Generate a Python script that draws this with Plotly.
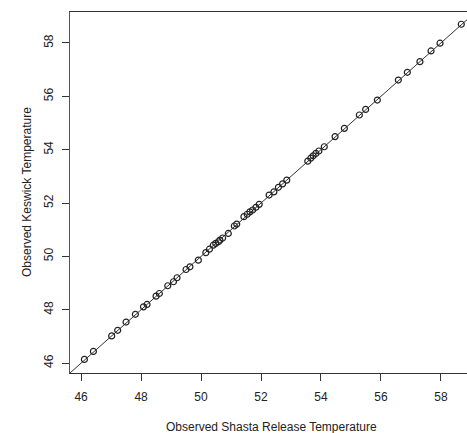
import plotly.graph_objects as go

shasta = [46.11, 46.41, 47.02, 47.22, 47.50, 47.81, 48.08, 48.20, 48.50, 48.61,
          48.89, 49.08, 49.20, 49.50, 49.63, 49.91, 50.16, 50.28, 50.41, 50.49,
          50.58, 50.63, 50.72, 50.91, 51.11, 51.19, 51.43, 51.54, 51.63, 51.72,
          51.83, 51.94, 52.27, 52.43, 52.58, 52.72, 52.86, 53.56, 53.66, 53.74,
          53.83, 53.93, 54.11, 54.47, 54.78, 55.28, 55.49, 55.88, 56.58, 56.88,
          57.30, 57.67, 57.97, 58.68]
keswick = [46.14, 46.44, 47.02, 47.23, 47.54, 47.83, 48.11, 48.20, 48.51, 48.61,
           48.90, 49.05, 49.20, 49.51, 49.61, 49.86, 50.14, 50.27, 50.42, 50.49,
           50.55, 50.61, 50.69, 50.86, 51.14, 51.21, 51.49, 51.58, 51.67, 51.74,
           51.84, 51.95, 52.30, 52.42, 52.59, 52.72, 52.86, 53.57, 53.68, 53.77,
           53.86, 53.95, 54.11, 54.49, 54.80, 55.30, 55.51, 55.86, 56.61, 56.90,
           57.30, 57.70, 57.99, 58.70]
identity = [44, 60]
ticks = [46, 48, 50, 52, 54, 56, 58]

font = dict(family="Liberation Sans, Arial, sans-serif", size=12, color="#222")

fig = go.Figure()
fig.add_trace(go.Scatter(x=identity, y=identity, mode="lines",
                         line=dict(color="#333", width=1), hoverinfo="skip"))
fig.add_trace(go.Scatter(x=shasta, y=keswick, mode="markers", cliponaxis=False,
                         marker=dict(symbol="circle-open", size=6,
                                     color="#222", line=dict(width=1.2))))

fig.update_layout(
    width=467, height=433,
    margin=dict(l=70, r=0, t=12, b=60, autoexpand=False),
    plot_bgcolor="white", paper_bgcolor="white",
    showlegend=False, font=font,
    xaxis=dict(range=[45.63, 58.87], tickvals=ticks, showgrid=False, zeroline=False,
               showline=True, linecolor="#333", linewidth=1, mirror=True,
               ticks="outside", ticklen=7, tickcolor="#333", automargin=False,
               ticklabelstandoff=6),
    yaxis=dict(range=[45.63, 59.16], tickvals=ticks, showgrid=False, zeroline=False,
               showline=True, linecolor="#555", linewidth=1, automargin=False,
               ticks="outside", ticklen=7, tickcolor="#333", tickangle=-90,
               ticklabelstandoff=4),
    annotations=[
        dict(text="Observed Shasta Release Temperature", xref="paper", yref="paper",
             x=(271 - 70) / 397, y=-(427 - 373) / 361, showarrow=False,
             xanchor="center", yanchor="middle", font=font),
        dict(text="Observed Keswick Temperature", xref="paper", yref="paper",
             x=-(70 - 27) / 397, y=(373 - 192) / 361, showarrow=False, textangle=-90,
             xanchor="center", yanchor="middle", font=font),
    ],
)
fig.write_html("out.html", config={"displayModeBar": False},
               post_script="document.body.style.margin='0';document.body.style.overflow='hidden';")
